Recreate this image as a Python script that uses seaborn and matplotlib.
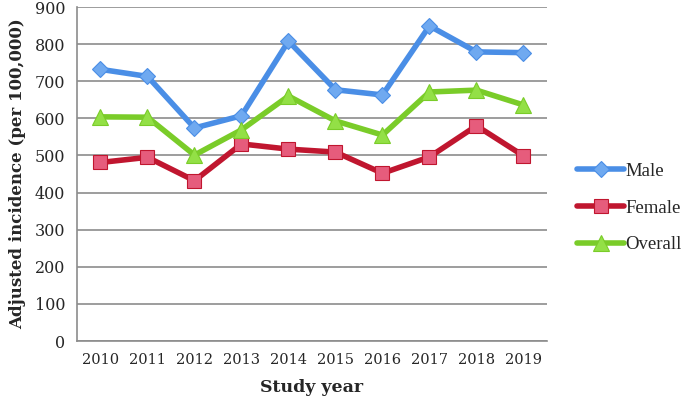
import matplotlib
matplotlib.use("Agg")
import matplotlib.pyplot as plt
import numpy as np
import seaborn as sns

years = ["2010", "2011", "2012", "2013", "2014", "2015", "2016", "2017", "2018", "2019"]
male = [732, 713, 574, 607, 808, 677, 663, 849, 779, 777]
female = [481, 495, 432, 531, 517, 509, 452, 496, 580, 499]
overall = [604, 603, 501, 569, 660, 593, 555, 671, 676, 636]

sns.set_style("white")
plt.rcParams["font.family"] = ["DejaVu Serif"]

fig = plt.figure(figsize=(6.85, 4.0), dpi=100)
ax = fig.add_axes([0.1124, 0.1475, 0.6861, 0.835])

x = np.arange(len(years))
series = [
    ("Male", male, "#4a8ee6", "#6fa9f0", "D", 8),
    ("Female", female, "#c0162f", "#e65c7c", "s", 10),
    ("Overall", overall, "#7acc29", "#93e046", "^", 11),
]
for name, vals, col, fill, mk, ms in series:
    sns.lineplot(x=x, y=vals, ax=ax, color=col, linewidth=4, marker=mk,
                 markersize=ms, markerfacecolor=fill, markeredgecolor=col,
                 markeredgewidth=0.8, label=name)

ax.set_xlim(-0.5, len(years) - 0.5)
ax.set_ylim(0, 900)
ax.set_yticks(range(0, 901, 100))
ax.yaxis.grid(True, color="#8c8c8c", linewidth=1.2)
ax.set_axisbelow(True)
ax.set_xticks(x)
ax.set_xticklabels(years, fontsize=10.5)
ax.set_xticks(np.arange(-0.5, len(years)), minor=True)
ax.tick_params(axis="x", which="major", length=0, pad=9)
ax.tick_params(axis="x", which="minor", length=5, color="#8c8c8c", width=1.2)
ax.tick_params(axis="y", length=5, color="#8c8c8c", width=1.2, labelsize=11.5)
for s in ["top", "right"]:
    ax.spines[s].set_visible(False)
for s in ["left", "bottom"]:
    ax.spines[s].set_color("#8c8c8c")
    ax.spines[s].set_linewidth(1.2)

ax.set_xlabel("Study year", fontsize=12.5, fontweight="bold", labelpad=8)
ax.set_ylabel("Adjusted incidence (per 100,000)", fontsize=12, fontweight="bold", labelpad=6)

ax.legend(loc="center left", bbox_to_anchor=(0.832, 0.48), bbox_transform=fig.transFigure,
          frameon=False, prop={"family": "Liberation Serif", "size": 13.5},
          handlelength=2.5, handletextpad=0.05, labelspacing=1.05, borderaxespad=0)

fig.savefig("out.png", dpi=100)
